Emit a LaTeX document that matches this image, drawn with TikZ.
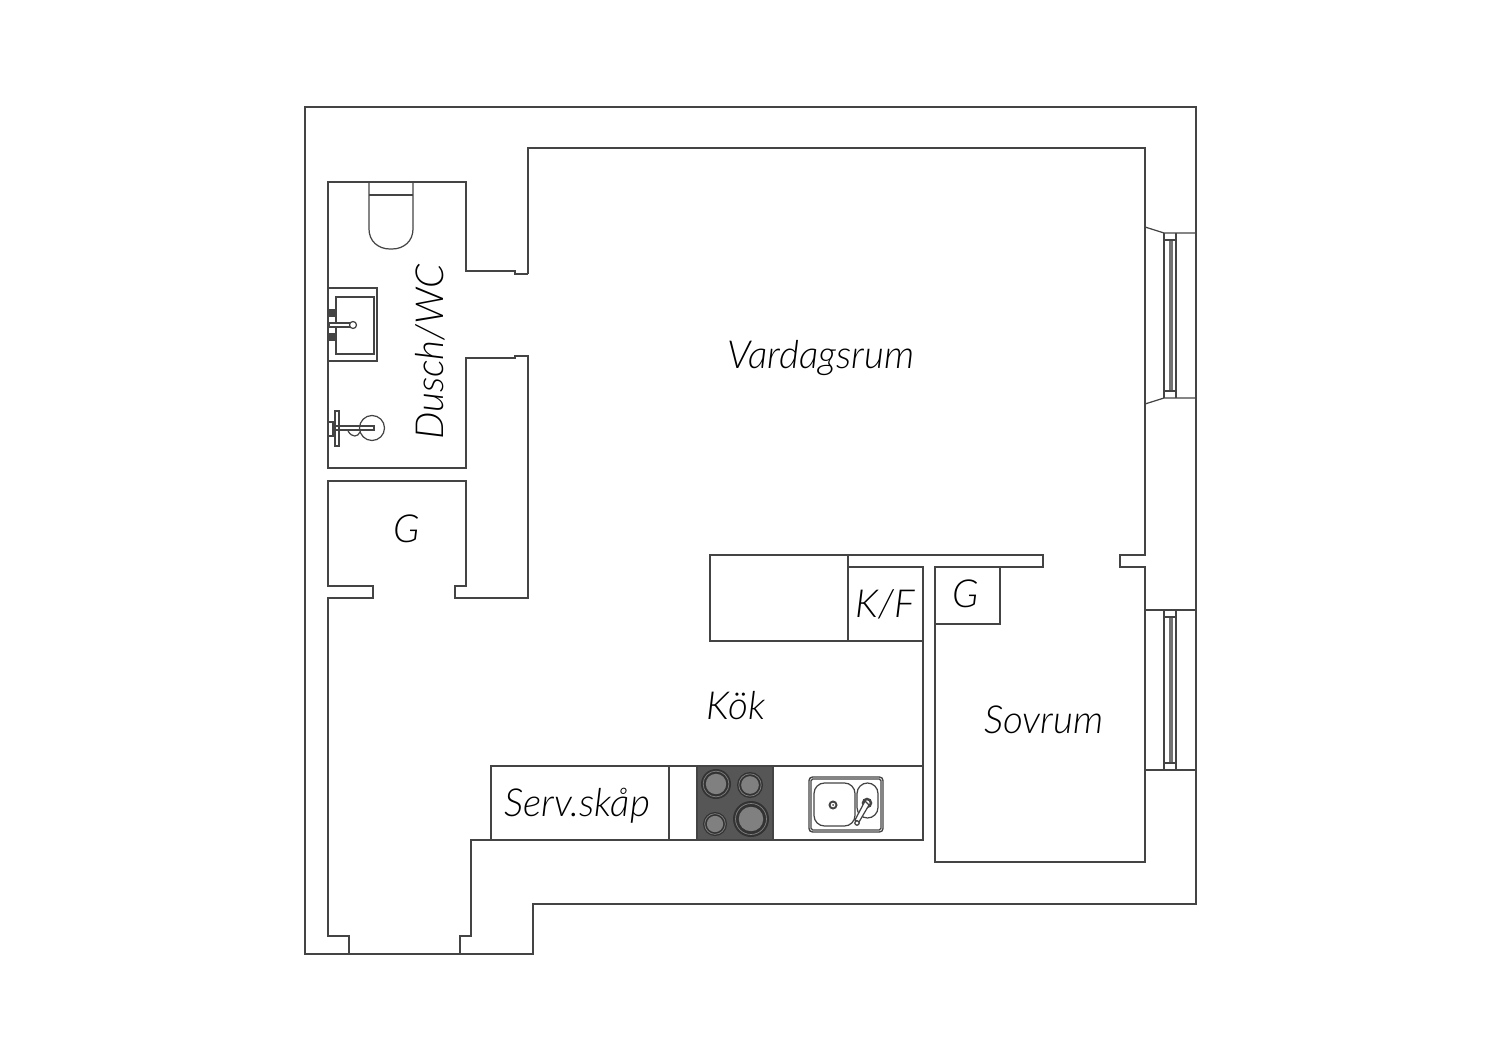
\documentclass[tikz,border=0pt]{standalone}
\usepackage{fontspec}
\setmainfont[ItalicFont={Lato Light Italic}]{Lato}
\definecolor{wallgray}{HTML}{444444}
\definecolor{hobgray}{HTML}{565656}
\definecolor{plategray}{HTML}{808080}
\begin{document}
\begin{tikzpicture}[x=0.02cm, y=-0.02cm, wall/.style={draw=wallgray, line width=0.8pt, line join=miter},
    fixture/.style={draw=wallgray, line width=0.7pt},
    room/.style={font=\fontsize{22}{24}\selectfont\itshape, text=black, inner sep=0pt}]
    \useasboundingbox (0,0) rectangle (1500,1060);

    \draw[wall] (305,107) -- (1196,107) -- (1196,904) -- (533,904) -- (533,954) -- (305,954) -- cycle;
    \draw[wall] (528,274) -- (528,148) -- (1145,148) -- (1145,555) -- (1120,555) -- (1120,567) -- (1145,567) -- (1145,862) -- (935,862) -- (935,567) -- (1043,567) -- (1043,555) -- (710,555) -- (710,641) -- (923,641);
    \draw[wall] (528,274) -- (515,274) -- (515,271) -- (466,271) -- (466,182) -- (328,182) -- (328,468) -- (466,468) -- (466,358) -- (515,358) -- (515,356) -- (528,356) -- (528,598) -- (455,598) -- (455,586) -- (466,586) -- (466,481) -- (328,481) -- (328,586) -- (373,586) -- (373,598) -- (328,598) -- (328,936) -- (349,936) -- (349,954);
    \draw[wall] (460,954) -- (460,936) -- (471,936) -- (471,840) -- (923,840) -- (923,567) -- (848,567);
    \draw[wall] (848,555) -- (848,641);
    \draw[wall] (935,624) -- (1000,624) -- (1000,567);
    \draw[wall] (923,766) -- (491,766) -- (491,840);
    \draw[wall] (669,766) -- (669,840);

    \foreach \wintop/\winbot/\tiltop/\tilbot in {233/398/227/404, 610/770/610/770} {
        \draw[fixture] (1145,\tiltop) -- (1164,\wintop) -- (1196,\wintop);
        \draw[fixture] (1145,\tilbot) -- (1164,\winbot) -- (1196,\winbot);
        \draw[fixture] (1164,\wintop) -- (1164,\winbot);
        \draw[fixture] (1176,\wintop) -- (1176,\winbot);
        \draw[fixture, draw=black!55] (1170,\wintop+7) -- (1170,\winbot-7);
        \draw[fixture, draw=black!55] (1172,\wintop+7) -- (1172,\winbot-7);
        \draw[fixture] (1164,\wintop+7) -- (1176,\wintop+7);
        \draw[fixture] (1164,\winbot-7) -- (1176,\winbot-7);
    }

    \draw[fixture] (369,182) -- (369,229) .. controls (369,241) and (378,249) .. (390,249) -- (392,249) .. controls (404,249) and (413,241) .. (413,229) -- (413,182);
    \draw[fixture] (369,195) -- (413,195);

    \draw[fixture] (328,288) rectangle (377,361);
    \draw[fixture] (336,297) rectangle (374,354);
    \fill[wallgray] (328,309) rectangle (336,317);
    \fill[wallgray] (328,333) rectangle (336,341);
    \draw[fixture, fill=white] (329,323) rectangle (350,327);
    \draw[fixture, fill=white] (353,325) circle[radius=3.5];

    \draw[fixture] (372,428) circle[radius=12.5];
    \draw[fixture] (335,411) rectangle (339,446);
    \draw[fixture] (328,422) rectangle (333,436);
    \draw[fixture] (333,426) rectangle (374,430);
    \draw[fixture] (348,431) .. controls (352,438) and (358,437) .. (360,432);

    \fill[hobgray, draw=wallgray, line width=0.6pt] (697,766) rectangle (773,840);
    \foreach \platex/\platey/\plater in {716/784/15, 750/785/13, 715/824/12, 751/819/18} {
        \fill[black!80] (\platex,\platey) circle[radius=\plater];
        \draw[plategray, line width=0.4pt] (\platex,\platey) circle[radius=\plater*0.86];
        \fill[plategray] (\platex,\platey) circle[radius=\plater*0.68];
    }

    \draw[fixture, rounded corners=2pt, line width=0.8pt] (809,777) rectangle (883,832);
    \draw[fixture, rounded corners=1pt] (811,779) rectangle (881,830);
    \draw[fixture, rounded corners=6pt] (814,783) rectangle (855,826);
    \draw[fixture, rounded corners=6pt] (857,783) rectangle (878,818);
    \draw[wallgray, line width=1.1pt] (833,805) circle[radius=3.5];
    \fill[wallgray] (833,805) circle[radius=1];
    \draw[wallgray, line width=1.4pt] (867,803) circle[radius=4];
    \draw[fixture, fill=white] (865,801) -- (869,805) -- (859,822) -- (855,820) -- cycle;
    \draw[fixture, fill=white] (857,823) circle[radius=2.2];

    \node[room] (vardagsrum) at (821,358) {Vardagsrum};
    \node[room, rotate=90] (dusch) at (430,352) {Dusch/WC};
    \node[room] (gHall) at (407,529) {G};
    \node[room] (kf) at (885,604) {K/F};
    \node[room] (gSovrum) at (966,594) {G};
    \node[room] (sovrum) at (1044,720) {Sovrum};
    \node[room] (kok) at (736,706) {Kök};
    \node[room] (serv) at (577,806) {Serv.skåp};
\end{tikzpicture}
\end{document}
